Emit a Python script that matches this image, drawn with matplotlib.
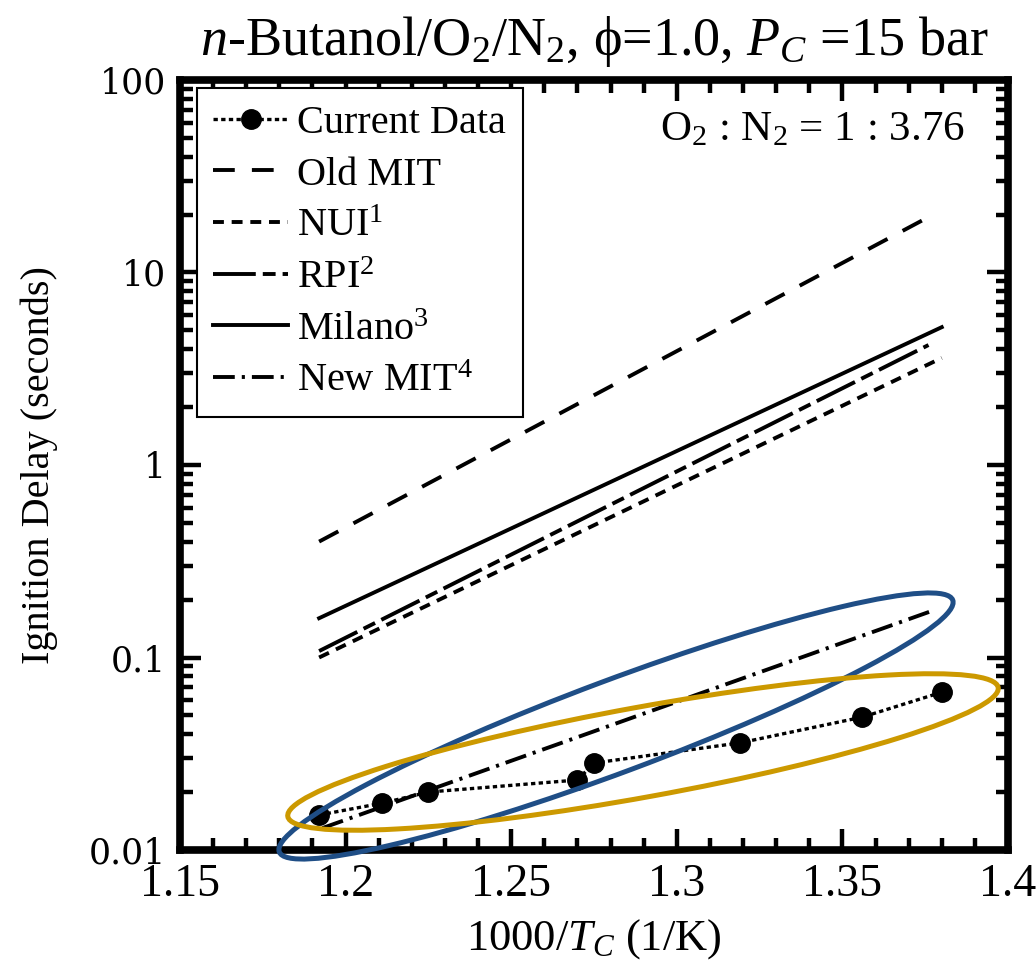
import numpy as np
import matplotlib
matplotlib.use("Agg")
import matplotlib.pyplot as plt
from matplotlib.patches import Ellipse
from matplotlib.transforms import IdentityTransform
from matplotlib.ticker import MultipleLocator, LogLocator, NullFormatter, FixedLocator, FixedFormatter

plt.rcParams['font.family'] = ['Liberation Serif', 'DejaVu Serif']
plt.rcParams['mathtext.fontset'] = 'custom'
plt.rcParams['mathtext.rm'] = 'Liberation Serif'
plt.rcParams['mathtext.it'] = 'Liberation Serif:italic'

# current measurements (1000/T, ignition delay in s)
cur_x = [1.192, 1.211, 1.225, 1.270, 1.275, 1.319, 1.356, 1.380]
cur_y = [0.0152, 0.0175, 0.0200, 0.0231, 0.0283, 0.0360, 0.049, 0.066]

# model predictions (straight lines on log scale -> end points)
old_mit_x = [1.192, 1.375]
old_mit_y = [0.40, 19.0]
nui_x = [1.192, 1.380]
nui_y = [0.100, 3.6]
rpi_x = [1.192, 1.376]
rpi_y = [0.108, 4.2]
milano_x = [1.192, 1.380]
milano_y = [0.160, 5.2]
new_mit_x = [1.193, 1.378]
new_mit_y = [0.0130, 0.177]

x_ticks = [1.15, 1.2, 1.25, 1.3, 1.35, 1.4]
x_ticklabels = ['1.15', '1.2', '1.25', '1.3', '1.35', '1.4']
y_ticks = [0.01, 0.1, 1, 10, 100]
y_ticklabels = ['0.01', '0.1', '1', '10', '100']

fig = plt.figure(figsize=(10.36, 9.67), dpi=100)
ax = fig.add_axes([180 / 1036, 1 - 850 / 967, 828 / 1036, 770 / 967])

lw = 2.8
ax.plot(cur_x, cur_y, color='black', lw=2.4, ls=(0, (1.3, 1.0)),
        marker='o', ms=14, label='Current Data')
ax.plot(old_mit_x, old_mit_y, color='black', lw=lw, ls=(0, (5.6, 4.4)), label='Old MIT')
ax.plot(nui_x, nui_y, color='black', lw=lw, ls=(0, (2.8, 2.0)), label='NUI$^1$')
ax.plot(rpi_x, rpi_y, color='black', lw=lw, ls=(0, (11, 1.8, 3.3, 1.8)), label='RPI$^2$')
ax.plot(milano_x, milano_y, color='black', lw=lw, ls='-', label='Milano$^3$')
ax.plot(new_mit_x, new_mit_y, color='black', lw=lw, ls=(0, (5.6, 1.8, 0.8, 1.8)), label='New MIT$^4$')

ax.set_yscale('log')
ax.set_xlim(1.15, 1.4)
ax.set_ylim(0.01, 100)

ax.xaxis.set_major_locator(FixedLocator(x_ticks))
ax.xaxis.set_major_formatter(FixedFormatter(x_ticklabels))
ax.xaxis.set_minor_locator(MultipleLocator(0.01))
ax.yaxis.set_major_locator(FixedLocator(y_ticks))
ax.yaxis.set_major_formatter(FixedFormatter(y_ticklabels))
ax.yaxis.set_minor_locator(LogLocator(base=10, subs=np.arange(2, 10)))
ax.yaxis.set_minor_formatter(NullFormatter())

ax.tick_params(which='both', direction='in', top=True, right=True, width=3.2, color='black')
ax.tick_params(which='major', length=15, pad=10)
ax.tick_params(which='minor', length=9)
ax.tick_params(axis='x', labelsize=33)
for t in ax.get_yticklabels():
    t.set_fontfamily('DejaVu Serif')
    t.set_fontsize(25)
for s in ax.spines.values():
    s.set_linewidth(5.5)

ax.set_xlabel('1000/$T_C$ (1/K)', fontsize=32, labelpad=8)
ax.set_ylabel('Ignition Delay (seconds)', fontsize=29, labelpad=22)
ax.set_title('$n$-Butanol/O$_2$/N$_2$, \u03d5=1.0, $P_C$ =15 bar', fontsize=39, pad=18)

ax.text(0.948, 0.935, 'O$_2$ : N$_2$ = 1 : 3.76', transform=ax.transAxes,
        ha='right', va='center', fontsize=31)

leg = ax.legend(loc='upper left', bbox_to_anchor=(0.02, 0.99), fontsize=29,
                frameon=True, fancybox=False, edgecolor='black', framealpha=1,
                handlelength=1.85, handletextpad=0.22, labelspacing=0.36, borderpad=0.42,
                borderaxespad=0.0)
leg.get_frame().set_linewidth(1.5)


def pixel_ellipse(cx, cy, w, h, angle, color):
    # centre given in image pixels (top-left origin), sizes in pixels
    e = Ellipse((cx, 967 - cy), w, h, angle=angle, fill=False, edgecolor=color,
                lw=3.6, transform=IdentityTransform(), clip_on=False)
    fig.add_artist(e)


pixel_ellipse(616, 726, 719, 92, 20.5, '#1f4e86')
pixel_ellipse(643, 752, 722, 90, 10.3, '#cc9900')

fig.savefig('out.png', dpi=100)
